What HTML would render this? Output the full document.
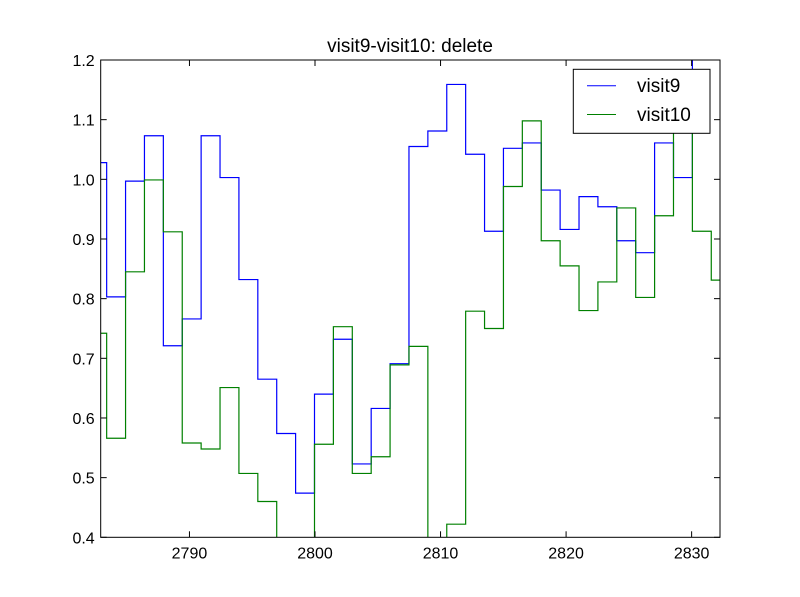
<!DOCTYPE html>
<html><head><meta charset="utf-8"><style>
html,body{margin:0;padding:0;background:#fff;}
svg{display:block;font-family:"Liberation Sans","DejaVu Sans",sans-serif;}
</style></head><body>
<svg id="chart" width="800" height="597" viewBox="0 0 800 597">
<rect x="0" y="0" width="800" height="597" fill="#fff"/>
<text x="410" y="52" font-size="19" text-anchor="middle">visit9-visit10: delete</text>
<defs><clipPath id="plotclip"><rect x="100.7" y="60" width="619.3" height="477.3"/></clipPath></defs>
<g id="series" clip-path="url(#plotclip)"></g>
<g id="axes"></g>
<g>
<rect x="573.3" y="69.3" width="136.7" height="64" fill="#fff" stroke="#000" stroke-width="1"/>
<line x1="587" y1="85.7" x2="616" y2="85.7" stroke="#0000ff" stroke-width="1"/>
<text x="637" y="92" font-size="19">visit9</text>
<line x1="587" y1="114.5" x2="616" y2="114.5" stroke="#008000" stroke-width="1"/>
<text x="637" y="121" font-size="19">visit10</text>
</g>
</svg>
<script>
const binStart = 2781.9;
const binWidth = 1.505;
const visit9 = [1.028,0.803,0.997,1.073,0.721,0.766,1.073,1.003,0.832,0.665,0.574,0.474,0.640,0.732,0.523,0.616,0.691,1.055,1.081,1.159,1.042,0.913,1.052,1.061,0.982,0.916,0.971,0.954,0.897,0.877,1.061,1.003,1.25,1.25];
const visit10 = [0.742,0.566,0.845,0.999,0.912,0.558,0.548,0.651,0.507,0.460,0.3,0.3,0.556,0.753,0.507,0.535,0.689,0.720,0.3,0.422,0.779,0.750,0.988,1.098,0.897,0.855,0.780,0.828,0.952,0.802,0.939,1.08,0.913,0.831];
const xTicks = [2790,2800,2810,2820,2830];
const yTicks = [0.4,0.5,0.6,0.7,0.8,0.9,1.0,1.1,1.2];
const yTickLabels = ["0.4","0.5","0.6","0.7","0.8","0.9","1.0","1.1","1.2"];

const L=100.7,R=720,T=60,B=537.3,xMin=2782.93,xMax=2832.26,yMin=0.4,yMax=1.2;
const xs=v=>L+(v-xMin)/(xMax-xMin)*(R-L);
const ys=v=>B-(v-yMin)/(yMax-yMin)*(B-T);
const NS="http://www.w3.org/2000/svg";
const series=document.getElementById('series');
const axes=document.getElementById('axes');

function stepPath(vals){
  let d="";
  vals.forEach((v,i)=>{
    const x0=xs(binStart+i*binWidth),x1=xs(binStart+(i+1)*binWidth),y=ys(v);
    d+=(i===0?"M":"L")+x0.toFixed(2)+","+y.toFixed(2)+"L"+x1.toFixed(2)+","+y.toFixed(2);
  });
  return d;
}
const p9=document.createElementNS(NS,"path");


p9.setAttribute("d",stepPath(visit9));p9.setAttribute("fill","none");p9.setAttribute("stroke","#0000ff");p9.setAttribute("stroke-width","1.2");
series.appendChild(p9);
const p10=document.createElementNS(NS,"path");


p10.setAttribute("d",stepPath(visit10));p10.setAttribute("fill","none");p10.setAttribute("stroke","#008000");p10.setAttribute("stroke-width","1.2");
series.appendChild(p10);

const frame=document.createElementNS(NS,"rect");


frame.setAttribute("x",L);frame.setAttribute("y",T);frame.setAttribute("width",R-L);frame.setAttribute("height",B-T);
frame.setAttribute("fill","none");frame.setAttribute("stroke","#000");frame.setAttribute("stroke-width","1");
axes.appendChild(frame);

function line(x1,y1,x2,y2,name){
  const l=document.createElementNS(NS,"line");
  
  
  l.setAttribute("x1",x1);l.setAttribute("y1",y1);l.setAttribute("x2",x2);l.setAttribute("y2",y2);
  l.setAttribute("stroke","#000");l.setAttribute("stroke-width","1");
  axes.appendChild(l);
}
function text(x,y,s,anchor,name){
  const t=document.createElementNS(NS,"text");
  
  
  t.setAttribute("x",x);t.setAttribute("y",y);t.setAttribute("font-size","16");t.setAttribute("text-anchor",anchor);
  t.textContent=s;axes.appendChild(t);
}
xTicks.forEach(v=>{
  const x=xs(v);
  line(x,B,x,B-6,'x-tick');line(x,T,x,T+6,'x-tick-top');
  text(x,B+21,String(v),"middle",'x-tick-label');
});
yTicks.forEach((v,i)=>{
  const y=ys(v);
  line(L,y,L+6,y,'y-tick');line(R,y,R-6,y,'y-tick-right');
  text(L-6,y+6,yTickLabels[i],"end",'y-tick-label');
});
</script>
</body></html>
